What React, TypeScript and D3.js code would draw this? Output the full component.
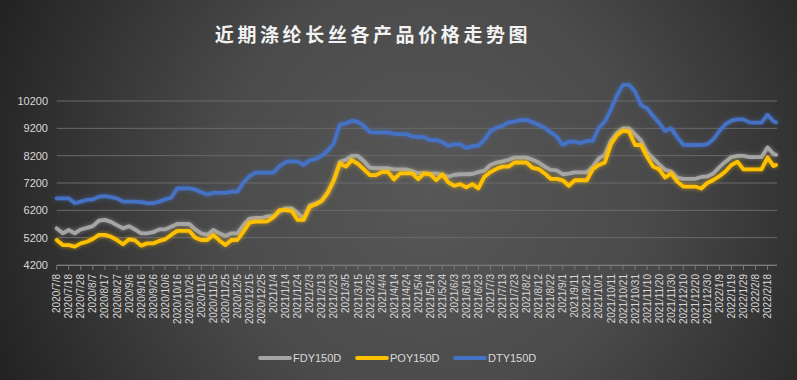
import React from "react";
import * as d3 from "d3";

const dates = [
  "2020/7/8","2020/7/13","2020/7/18","2020/7/23","2020/7/28","2020/8/2","2020/8/7","2020/8/12","2020/8/17","2020/8/22",
  "2020/8/27","2020/9/1","2020/9/6","2020/9/11","2020/9/16","2020/9/21","2020/9/26","2020/10/1","2020/10/6","2020/10/11",
  "2020/10/16","2020/10/21","2020/10/26","2020/10/31","2020/11/5","2020/11/10","2020/11/15","2020/11/20","2020/11/25","2020/11/30",
  "2020/12/5","2020/12/10","2020/12/15","2020/12/20","2020/12/25","2020/12/30","2021/1/4","2021/1/9","2021/1/14","2021/1/19",
  "2021/1/24","2021/1/29","2021/2/3","2021/2/8","2021/2/13","2021/2/18","2021/2/23","2021/2/28","2021/3/5","2021/3/10",
  "2021/3/15","2021/3/20","2021/3/25","2021/3/30","2021/4/4","2021/4/9","2021/4/14","2021/4/19","2021/4/24","2021/4/29",
  "2021/5/4","2021/5/9","2021/5/14","2021/5/19","2021/5/24","2021/5/29","2021/6/3","2021/6/8","2021/6/13","2021/6/18",
  "2021/6/23","2021/6/28","2021/7/3","2021/7/8","2021/7/13","2021/7/18","2021/7/23","2021/7/28","2021/8/2","2021/8/7",
  "2021/8/12","2021/8/17","2021/8/22","2021/8/27","2021/9/1","2021/9/6","2021/9/11","2021/9/16","2021/9/21","2021/9/26",
  "2021/10/1","2021/10/6","2021/10/11","2021/10/16","2021/10/21","2021/10/26","2021/10/31","2021/11/5","2021/11/10","2021/11/15",
  "2021/11/20","2021/11/25","2021/11/30","2021/12/5","2021/12/10","2021/12/15","2021/12/20","2021/12/25","2021/12/30","2022/1/4",
  "2022/1/9","2022/1/14","2022/1/19","2022/1/24","2022/1/29","2022/2/3","2022/2/8","2022/2/13","2022/2/18","2022/2/23",
  "2022/2/25"
];

const fdy = [
  5540,5360,5480,5360,5500,5560,5620,5820,5850,5780,
  5660,5540,5620,5500,5360,5360,5400,5500,5500,5600,
  5700,5700,5700,5500,5360,5300,5480,5360,5260,5360,
  5360,5660,5900,5920,5920,5980,6000,6150,6275,6275,
  6100,5910,6380,6450,6560,6850,7300,7980,8050,8190,
  8190,8000,7760,7740,7740,7740,7700,7700,7700,7640,
  7560,7560,7540,7550,7500,7430,7500,7520,7520,7530,
  7600,7650,7860,7950,7990,8050,8130,8130,8130,8050,
  7950,7800,7680,7660,7520,7540,7590,7590,7590,7800,
  8100,8230,8750,9030,9200,9200,8980,8750,8320,8100,
  7880,7680,7620,7400,7350,7350,7350,7420,7440,7550,
  7780,7980,8150,8190,8190,8150,8150,8150,8500,8260,
  8230
];

const poy = [
  5115,4930,4930,4870,4990,5050,5150,5300,5300,5240,
  5115,4960,5140,5100,4910,4990,4990,5080,5140,5300,
  5450,5450,5450,5200,5115,5115,5300,5100,4930,5115,
  5115,5420,5750,5785,5785,5800,5950,6210,6210,6180,
  5850,5850,6330,6420,6550,6850,7300,7920,7800,8040,
  7900,7700,7490,7490,7600,7610,7330,7550,7550,7550,
  7340,7550,7520,7300,7520,7225,7100,7160,7040,7160,
  7000,7430,7600,7720,7800,7800,7950,7950,7950,7750,
  7710,7550,7350,7350,7300,7100,7300,7300,7300,7710,
  7860,7950,8620,8950,9120,9080,8590,8590,8160,7800,
  7700,7400,7550,7250,7070,7070,7070,7000,7200,7310,
  7450,7620,7860,7980,7700,7700,7700,7700,8130,7820,
  7860
];

const dty = [
  6640,6640,6640,6460,6520,6580,6600,6700,6720,6680,
  6640,6520,6520,6520,6500,6460,6460,6520,6600,6660,
  7000,7000,7000,6960,6860,6780,6840,6840,6840,6880,
  6880,7220,7450,7580,7580,7580,7580,7820,7960,8000,
  7980,7860,8040,8070,8200,8380,8650,9340,9380,9480,
  9440,9280,9060,9050,9050,9050,9000,8990,8990,8900,
  8890,8880,8770,8770,8700,8560,8610,8610,8480,8550,
  8570,8780,9100,9220,9290,9420,9450,9500,9510,9420,
  9320,9220,9050,8900,8590,8710,8710,8660,8740,8740,
  9220,9450,9900,10400,10790,10790,10550,10050,9930,9650,
  9400,9100,9200,8880,8600,8590,8590,8590,8620,8800,
  9100,9350,9480,9530,9530,9420,9410,9410,9700,9450,
  9420
];

const tickLabels = [
  "2020/7/8","2020/7/18","2020/7/28","2020/8/7","2020/8/17","2020/8/27","2020/9/6","2020/9/16","2020/9/26","2020/10/6",
  "2020/10/16","2020/10/26","2020/11/5","2020/11/15","2020/11/25","2020/12/5","2020/12/15","2020/12/25","2021/1/4","2021/1/14",
  "2021/1/24","2021/2/3","2021/2/13","2021/2/23","2021/3/5","2021/3/15","2021/3/25","2021/4/4","2021/4/14","2021/4/24",
  "2021/5/4","2021/5/14","2021/5/24","2021/6/3","2021/6/13","2021/6/23","2021/7/3","2021/7/13","2021/7/23","2021/8/2",
  "2021/8/12","2021/8/22","2021/9/1","2021/9/11","2021/9/21","2021/10/1","2021/10/11","2021/10/21","2021/10/31","2021/11/10",
  "2021/11/20","2021/11/30","2021/12/10","2021/12/20","2021/12/30","2022/1/9","2022/1/19","2022/1/29","2022/2/8","2022/2/18"
];

const yTicks = [4200, 5200, 6200, 7200, 8200, 9200, 10200];

const seriesNames = ["FDY150D", "POY150D", "DTY150D"];
const seriesColors = ["#a5a5a5", "#ffc000", "#4472c4"];
const title = "近期涤纶长丝各产品价格走势图";

const W = 797;
const H = 380;
const parse = d3.timeParse("%Y/%m/%d");

export default function App() {
  const x = d3
    .scaleTime()
    .domain([parse("2020/7/8") as Date, parse("2022/2/25") as Date])
    .range([56.7, 776]);
  const y = d3.scaleLinear().domain([4200, 11000]).range([265, 79.15]);

  const seriesValues = [fdy, poy, dty];
  const line = d3
    .line<[Date, number]>()
    .x((d) => x(d[0]))
    .y((d) => y(d[1]))
    .curve(d3.curveLinear);

  const parsedDates = dates.map((d) => parse(d) as Date);
  const font = "'Liberation Sans', 'DejaVu Sans', sans-serif";
  const txt = "#d9d9d9";

  const legendX = [260, 357, 455];

  return (
    <svg
      width={W}
      height={H}
      style={{ position: "absolute", left: 0, top: 0, display: "block" }}
    >
      <defs>
        <radialGradient id="bg" gradientUnits="userSpaceOnUse" cx={430} cy={190} r={470}>
          <stop offset="0%" stopColor="#575757" />
          <stop offset="45%" stopColor="#4b4b4b" />
          <stop offset="100%" stopColor="#222222" />
        </radialGradient>
        <filter id="glow" x="-5%" y="-20%" width="110%" height="140%">
          <feGaussianBlur in="SourceGraphic" stdDeviation="2" result="blur" />
          <feComponentTransfer in="blur" result="blur2">
            <feFuncA type="linear" slope="0.6" />
          </feComponentTransfer>
          <feMerge>
            <feMergeNode in="blur2" />
            <feMergeNode in="SourceGraphic" />
          </feMerge>
        </filter>
      </defs>
      <rect x={0} y={0} width={W} height={H} fill="url(#bg)" />

      <text
        x={373}
        y={42}
        textAnchor="middle"
        fontFamily="'Noto Sans CJK SC', sans-serif"
        fontWeight="bold"
        fontSize={19}
        letterSpacing={3.6}
        fill="#f2f2f2"
      >
        {title}
      </text>

      {yTicks.map((t) => (
        <g key={t}>
          <line x1={56.7} x2={777} y1={y(t)} y2={y(t)} stroke="#6a6a6a" strokeWidth={1} />
          <text
            x={48}
            y={y(t)}
            dy="0.35em"
            textAnchor="end"
            fontFamily={font}
            fontSize={11}
            fill={txt}
          >
            {t}
          </text>
        </g>
      ))}

      <line x1={56.7} x2={777} y1={265.5} y2={265.5} stroke="#7a7a7a" strokeWidth={1} />
      {tickLabels.map((t) => {
        const xx = x(parse(t) as Date);
        return (
          <g key={t}>
            <line x1={xx} x2={xx} y1={265.5} y2={270} stroke="#7a7a7a" strokeWidth={1} />
            <text
              transform={`translate(${xx + 3.6},274) rotate(-90)`}
              textAnchor="end"
              fontFamily={font}
              fontSize={10}
              fill={txt}
            >
              {t}
            </text>
          </g>
        );
      })}

      {seriesValues.map((vals, i) => {
        const pts = parsedDates.map((d, j) => [d, vals[j]] as [Date, number]);
        return (
          <path
            key={seriesNames[i]}
            d={line(pts) || ""}
            fill="none"
            stroke={seriesColors[i]}
            strokeWidth={3.8}
            strokeLinejoin="round"
            strokeLinecap="round"
            filter="url(#glow)"
          />
        );
      })}

      {seriesNames.map((n, i) => (
        <g key={n}>
          <line
            x1={legendX[i]}
            x2={legendX[i] + 30}
            y1={358}
            y2={358}
            stroke={seriesColors[i]}
            strokeWidth={3.8}
            strokeLinecap="round"
          />
          <text
            x={legendX[i] + 33}
            y={358}
            dy="0.35em"
            fontFamily={font}
            fontSize={11}
            fill={txt}
          >
            {n}
          </text>
        </g>
      ))}
    </svg>
  );
}
